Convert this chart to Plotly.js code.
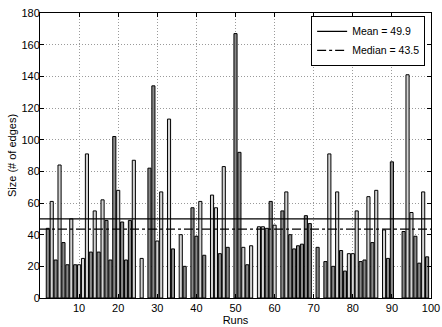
<!DOCTYPE html>
<html>
<head>
<meta charset="utf-8">
<script src="https://cdn.plot.ly/plotly-3.0.1.min.js"></script>
<style>html,body{margin:0;padding:0;background:#fff;}#chart{width:442px;height:327px;}</style>
</head>
<body>
<div id="chart"></div>
<script>
// Run numbers that produced a result (missing runs are absent)
var runs = [2,3,4,5,6,7,8,9,10,11,12,13,14,15,16,17,18,19,20,21,22,23,24,
  26,28,29,30,31,33,34,36,37,39,40,41,42,44,45,46,47,48,
  50,51,52,53,54,56,57,58,59,60,62,63,64,65,66,67,68,69,71,
  73,74,75,76,77,78,79,80,81,82,83,84,85,86,88,89,90,93,94,95,96,97,98,99];
// Size (# of edges) per run
var sizes = [44,61,24,84,35,21,50,21,21,25,91,29,55,29,62,49,24,102,68,48,24,49,87,
  25,82,134,36,67,113,31,40,20,57,39,61,27,65,57,28,83,32,
  167,92,32,21,33,45,45,44,61,46,55,67,40,31,33,34,52,47,32,
  23,91,20,67,30,17,28,28,55,23,24,64,35,68,43,25,86,42,141,54,39,22,67,26];
var xTicks = [10,20,30,40,50,60,70,80,90,100];
var yTicks = [0,20,40,60,80,100,120,140,160,180];

// style: runs whose bar appears light grey
var lightRuns = [3,5,8,10,11,12,14,16,20,24,26,30,31,33,36,41,44,45,47,52,54,56,57,60,63,74,76,79,80,81,84,86,88,94,95,98];
var barColors = runs.map(function(r){ return lightRuns.indexOf(r) >= 0 ? '#d4d4d4' : '#8a8a8a'; });

var sum = sizes.reduce(function(a,b){return a+b;},0);
var mean = sum / sizes.length;
var sorted = sizes.slice().sort(function(a,b){return a-b;});
var n = sorted.length;
var median = n % 2 ? sorted[(n-1)/2] : (sorted[n/2-1] + sorted[n/2]) / 2;

var font = {family: 'Liberation Sans, Arial, sans-serif', size: 11, color: '#000'};

var traces = [
  {type:'bar', x: runs, y: sizes, width: 0.8, showlegend:false,
   marker:{color: barColors, line:{color:'#000', width:1}}, hoverinfo:'x+y'},
  {type:'scatter', mode:'lines', x:[0,100], y:[mean,mean], name:'Mean = ' + mean.toFixed(1),
   line:{color:'#000', width:1.2, dash:'solid'}},
  {type:'scatter', mode:'lines', x:[0,100], y:[median,median], name:'Median = ' + median.toFixed(1),
   line:{color:'#000', width:1.2, dash:'dashdot'}}
];

var layout = {
  width: 442, height: 327,
  margin: {l: 40, r: 11, t: 13, b: 29, pad: 0},
  paper_bgcolor: '#fff', plot_bgcolor: '#fff',
  font: font,
  xaxis: {range: [0, 100], tickvals: xTicks, ticktext: xTicks.map(String),
    ticks: 'inside', ticklen: 4, tickcolor: '#000', showline: true, linecolor: '#000', linewidth: 1,
    mirror: 'ticks', showgrid: true, gridcolor: '#9a9a9a', griddash: '1px,2px', gridwidth: 1,
    zeroline: false, tickfont: font,
    title: {text: 'Runs', font: font, standoff: 0}},
  yaxis: {range: [0, 180], tickvals: yTicks, ticktext: yTicks.map(String),
    ticks: 'inside', ticklen: 4, tickcolor: '#000', showline: true, linecolor: '#000', linewidth: 1,
    mirror: 'ticks', showgrid: true, gridcolor: '#9a9a9a', griddash: '1px,2px', gridwidth: 1,
    zeroline: false, tickfont: font, ticklabelstandoff: -3,
    title: {text: 'Size (# of edges)', font: font, standoff: 2}},
  legend: {x: 0.985, y: 0.99, xanchor: 'right', yanchor: 'top',
    bgcolor: '#fff', bordercolor: '#000', borderwidth: 1,
    font: {family: font.family, size: 10.5, color: '#000'},
    tracegroupgap: 0, itemwidth: 30},
  bargap: 0.2
};

Plotly.newPlot('chart', traces, layout, {staticPlot: true, displayModeBar: false});
</script>
</body>
</html>
